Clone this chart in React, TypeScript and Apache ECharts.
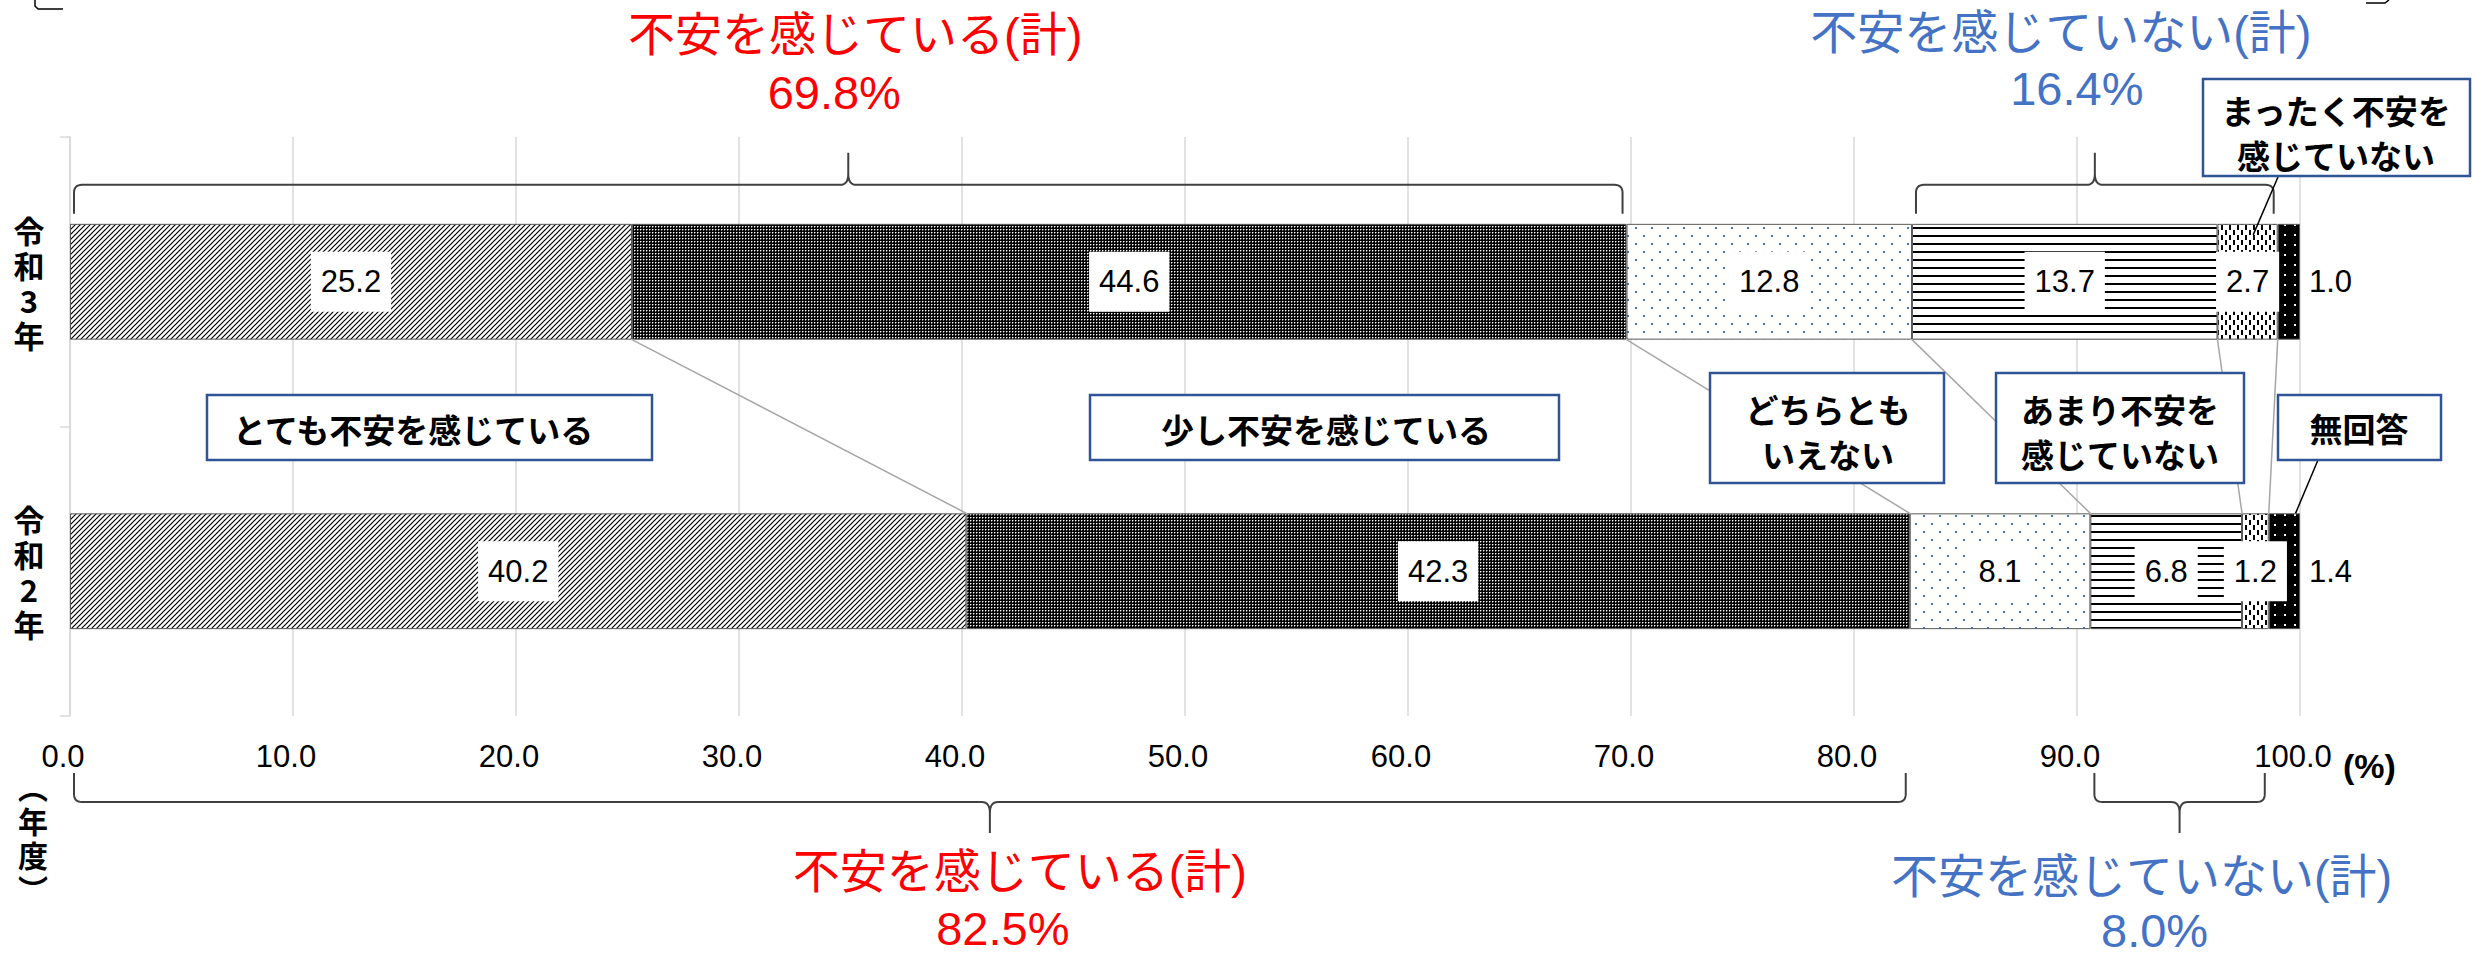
import React, { useEffect, useRef } from 'react';
import * as echarts from 'echarts';

// Survey years (top row first)
const years = ['令和3年', '令和2年'];

// Answer categories, stacked left to right
const answerNames = [
  'とても不安を感じている',
  '少し不安を感じている',
  'どちらともいえない',
  'あまり不安を感じていない',
  'まったく不安を感じていない',
  '無回答',
];

// Shares (%) per year: [令和3年, 令和2年]
const veryAnxious = [25.2, 40.2];
const slightlyAnxious = [44.6, 42.3];
const neither = [12.8, 8.1];
const notVeryAnxious = [13.7, 6.8];
const notAtAllAnxious = [2.7, 1.2];
const noAnswer = [1.0, 1.4];

// Stated subtotals per year
const anxiousTotals = [69.8, 82.5];
const notAnxiousTotals = [16.4, 8.0];

const NUM_FONT = '"Liberation Sans", "Noto Sans CJK JP", sans-serif';
const JP_FONT = '"Noto Sans CJK JP", "Liberation Sans", sans-serif';
const RED = '#FF0000';
const BLUE = '#4472C4';
const BOX_BLUE = '#2F5597';
const GRID_GRAY = '#D9D9D9';

type Ctx = CanvasRenderingContext2D;

function tile(w: number, h: number, draw: (ctx: Ctx) => void) {
  const c = document.createElement('canvas');
  c.width = w;
  c.height = h;
  const ctx = c.getContext('2d') as Ctx;
  draw(ctx);
  return { image: c, repeat: 'repeat' } as any;
}

function makePatterns() {
  // upward diagonal hatch
  const hatch = tile(5, 5, (ctx) => {
    ctx.fillStyle = '#fff';
    ctx.fillRect(0, 0, 5, 5);
    ctx.strokeStyle = '#000';
    ctx.lineWidth = 1.2;
    for (const o of [-5, 0, 5]) {
      ctx.beginPath();
      ctx.moveTo(o - 1, 6);
      ctx.lineTo(o + 6, -1);
      ctx.stroke();
    }
  });
  // dense black with fine white dots
  const darkDots = tile(3, 3, (ctx) => {
    ctx.fillStyle = '#000';
    ctx.fillRect(0, 0, 3, 3);
    ctx.fillStyle = '#fff';
    ctx.fillRect(1, 1, 1, 1);
    ctx.fillStyle = '#777';
    ctx.fillRect(2, 1, 1, 1);
    ctx.fillRect(1, 2, 1, 1);
  });
  // sparse blue dots on white
  const blueDots = tile(16, 16, (ctx) => {
    ctx.fillStyle = '#fff';
    ctx.fillRect(0, 0, 16, 16);
    ctx.fillStyle = BLUE;
    ctx.fillRect(3, 3, 2, 2);
    ctx.fillRect(11, 11, 2, 2);
  });
  // horizontal stripes
  const hLines = tile(8, 8, (ctx) => {
    ctx.fillStyle = '#fff';
    ctx.fillRect(0, 0, 8, 8);
    ctx.fillStyle = '#000';
    ctx.fillRect(0, 3, 8, 2);
  });
  // short vertical dashes
  const dashes = tile(8, 10, (ctx) => {
    ctx.fillStyle = '#fff';
    ctx.fillRect(0, 0, 8, 10);
    ctx.fillStyle = '#000';
    ctx.fillRect(1, 0, 2, 5);
    ctx.fillRect(5, 5, 2, 5);
  });
  // black with white dots
  const whiteDots = tile(10, 10, (ctx) => {
    ctx.fillStyle = '#000';
    ctx.fillRect(0, 0, 10, 10);
    ctx.fillStyle = '#fff';
    ctx.fillRect(4, 4, 2, 2);
  });
  return [hatch, darkDots, blueDots, hLines, dashes, whiteDots];
}

function quad(pts: number[][], p0: number[], c: number[], p1: number[], n = 8) {
  for (let i = 1; i <= n; i++) {
    const t = i / n;
    const a = (1 - t) * (1 - t);
    const b = 2 * (1 - t) * t;
    const d = t * t;
    pts.push([a * p0[0] + b * c[0] + d * p1[0], a * p0[1] + b * c[1] + d * p1[1]]);
  }
}

// Curly brace: ends at yEnd, spine at yH, tip at yPeak
function bracePoints(x0: number, x1: number, yEnd: number, yH: number, yPeak: number) {
  const dir = Math.sign(yPeak - yH);
  const e = -dir;
  const m = (x0 + x1) / 2;
  const r = 8;
  const pts: number[][] = [[x0, yEnd], [x0, yH + e * r]];
  quad(pts, [x0, yH + e * r], [x0, yH], [x0 + r, yH]);
  pts.push([m - r, yH]);
  quad(pts, [m - r, yH], [m, yH], [m, yH + dir * 11]);
  pts.push([m, yPeak]);
  pts.push([m, yH + dir * 11]);
  quad(pts, [m, yH + dir * 11], [m, yH], [m + r, yH]);
  pts.push([x1 - r, yH]);
  quad(pts, [x1 - r, yH], [x1, yH], [x1, yH + e * r]);
  pts.push([x1, yEnd]);
  return pts;
}

function textEl(
  text: string,
  x: number,
  y: number,
  opts: { size: number; color?: string; weight?: string; family?: string; align?: string; lineHeight?: number; z?: number }
) {
  const align = opts.align || 'center';
  return {
    type: 'text',
    x,
    y,
    z: opts.z ?? 30,
    silent: true,
    style: {
      text,
      fill: opts.color || '#000',
      fontSize: opts.size,
      fontWeight: opts.weight || 'normal',
      fontFamily: opts.family || JP_FONT,
      lineHeight: opts.lineHeight,
      align,
      verticalAlign: 'middle',
      textAlign: align,
      textVerticalAlign: 'middle',
    },
  };
}

export default function App() {
  const ref = useRef<HTMLDivElement>(null);

  useEffect(() => {
    if (!ref.current) return;
    const chart = echarts.init(ref.current, undefined, { renderer: 'svg' });
    const patterns = makePatterns();
    const segments = [veryAnxious, slightlyAnxious, neither, notVeryAnxious, notAtAllAnxious, noAnswer];

    const insideLabel = {
      show: true,
      position: 'inside',
      formatter: (p: any) => Number(p.value).toFixed(1),
      backgroundColor: '#fff',
      padding: [13, 10, 11, 10],
      fontSize: 31,
      lineHeight: 36,
      color: '#000',
      fontFamily: NUM_FONT,
    };
    const outsideLabel = {
      show: true,
      position: 'right',
      distance: 9,
      formatter: (p: any) => Number(p.value).toFixed(1),
      fontSize: 31,
      color: '#000',
      fontFamily: NUM_FONT,
    };

    chart.setOption({
      animation: false,
      backgroundColor: '#fff',
      grid: { left: 70, right: 173, top: 137, bottom: 241, containLabel: false },
      xAxis: {
        type: 'value',
        min: 0,
        max: 100,
        interval: 10,
        axisLine: { show: false },
        axisTick: { show: false },
        splitLine: { show: true, lineStyle: { color: GRID_GRAY, width: 1.5 } },
        axisLabel: {
          formatter: (v: number) => v.toFixed(1),
          fontSize: 31,
          color: '#000',
          fontFamily: NUM_FONT,
          margin: 25,
          padding: [0, 14, 0, 0],
        },
      },
      yAxis: {
        type: 'category',
        data: years,
        inverse: true,
        axisLine: { show: true, lineStyle: { color: GRID_GRAY, width: 1.5 } },
        axisTick: { show: true, length: 10, lineStyle: { color: GRID_GRAY, width: 1.5 } },
        axisLabel: {
          formatter: (v: string) => v.split('').join('\n'),
          fontSize: 31,
          fontWeight: 'bold',
          lineHeight: 35,
          align: 'center',
          margin: 41,
          color: '#000',
          fontFamily: JP_FONT,
        },
      },
      series: segments.map((data, i) => ({
        type: 'bar',
        name: answerNames[i],
        stack: 'total',
        data,
        barWidth: '40%',
        itemStyle: { color: patterns[i], borderColor: '#595959', borderWidth: 1 },
        label: i === segments.length - 1 ? outsideLabel : insideLabel,
      })),
    });

    // Positions derived from the axes
    const px = (v: number) => chart.convertToPixel({ xAxisIndex: 0 }, v) as number;
    const rowY = years.map((y) => chart.convertToPixel({ yAxisIndex: 0 }, y) as number);
    const band = Math.abs(rowY[1] - rowY[0]);
    const half = (band * 0.4) / 2;
    const barTop = rowY.map((y) => y - half);
    const barBottom = rowY.map((y) => y + half);
    const gridBottom = rowY[1] + band / 2;

    const cum = years.map((_, r) => {
      let s = 0;
      return segments.map((seg) => (s += seg[r]));
    });

    const graphics: any[] = [];

    // Series lines joining the segment boundaries of the two bars
    for (let k = 0; k < segments.length - 1; k++) {
      graphics.push({
        type: 'line',
        z: 5,
        silent: true,
        shape: { x1: px(cum[0][k]), y1: barBottom[0], x2: px(cum[1][k]), y2: barTop[1] },
        style: { stroke: '#A6A6A6', lineWidth: 1.5 },
      });
    }

    // Subtotal braces
    const braces = [
      { row: 0, from: 0, to: cum[0][1], top: true, color: RED, title: '不安を感じている(計)', total: anxiousTotals[0], d1: 7, d2: -14, y1: 34, y2: 92 },
      { row: 0, from: cum[0][2], to: cum[0][4], top: true, color: BLUE, title: '不安を感じていない(計)', total: notAnxiousTotals[0], d1: -34, d2: -18, y1: 32, y2: 88 },
      { row: 1, from: 0, to: cum[1][1], top: false, color: RED, title: '不安を感じている(計)', total: anxiousTotals[1], d1: 30, d2: 13, y1: 871, y2: 928 },
      { row: 1, from: cum[1][2], to: cum[1][4], top: false, color: BLUE, title: '不安を感じていない(計)', total: notAnxiousTotals[1], d1: -38, d2: -25, y1: 876, y2: 930 },
    ];
    braces.forEach((b) => {
      const x0 = px(b.from) + 4;
      const x1 = px(b.to) - 4;
      const m = (x0 + x1) / 2;
      const pts = b.top
        ? bracePoints(x0, x1, barTop[0] - 10, barTop[0] - 39, barTop[0] - 71)
        : bracePoints(x0, x1, gridBottom + 57, gridBottom + 86, gridBottom + 117);
      graphics.push({
        type: 'polyline',
        z: 6,
        silent: true,
        shape: { points: pts },
        style: { stroke: '#404040', lineWidth: 2, fill: null },
      });
      graphics.push(textEl(b.title, m + b.d1, b.y1, { size: 47, color: b.color, family: NUM_FONT }));
      graphics.push(textEl(`${b.total.toFixed(1)}%`, m + b.d2, b.y2, { size: 47, color: b.color, family: NUM_FONT }));
    });

    // Leader lines to the smallest segments
    graphics.push({
      type: 'line',
      z: 15,
      silent: true,
      shape: { x1: 2278, y1: 177, x2: px(cum[0][3] + 1.6), y2: barTop[0] + 11 },
      style: { stroke: '#000', lineWidth: 1.5 },
    });
    graphics.push({
      type: 'line',
      z: 15,
      silent: true,
      shape: { x1: 2318, y1: 460, x2: px(99.8), y2: barTop[1] },
      style: { stroke: '#000', lineWidth: 1.5 },
    });

    // Category callouts
    const callouts = [
      { text: 'とても不安を感じている', box: [207, 395, 445, 65], tx: 233, ty: 429, align: 'left' },
      { text: '少し不安を感じている', box: [1090, 395, 469, 65], tx: 1326, ty: 429, align: 'center' },
      { text: 'どちらとも\nいえない', box: [1710, 373, 234, 110], tx: 1828, ty: 431, align: 'center' },
      { text: 'あまり不安を\n感じていない', box: [1996, 373, 248, 110], tx: 2120, ty: 431, align: 'center' },
      { text: '無回答', box: [2278, 395, 163, 65], tx: 2359, ty: 428, align: 'center' },
      { text: 'まったく不安を\n感じていない', box: [2203, 79, 267, 97], tx: 2336, ty: 132, align: 'center' },
    ];
    callouts.forEach((c) => {
      graphics.push({
        type: 'rect',
        z: 20,
        silent: true,
        shape: { x: c.box[0], y: c.box[1], width: c.box[2], height: c.box[3] },
        style: { fill: '#fff', stroke: BOX_BLUE, lineWidth: 2.5 },
      });
      graphics.push(
        textEl(c.text, c.tx, c.ty, { size: 33, weight: 'bold', align: c.align, lineHeight: 45 })
      );
    });

    // Axis unit and year caption
    graphics.push(textEl('(%)', px(100) + 43, 766, { size: 34, weight: 'bold', align: 'left', family: NUM_FONT }));
    graphics.push(textEl('︵\n年\n度\n︶', 33, 837, { size: 30, weight: 'bold', lineHeight: 34 }));

    // Clipped frame corners at the top edge
    graphics.push({
      type: 'polyline',
      silent: true,
      shape: { points: [[35, 0], [35, 6], [38, 9], [63, 9]] },
      style: { stroke: '#000', lineWidth: 1.5, fill: null },
    });
    graphics.push({
      type: 'polyline',
      silent: true,
      shape: { points: [[2366, 3], [2385, 3], [2389, 0]] },
      style: { stroke: '#000', lineWidth: 1.5, fill: null },
    });

    chart.setOption({ graphic: { elements: graphics } });

    return () => chart.dispose();
  }, []);

  return (
    <div
      ref={ref}
      style={{ position: 'fixed', left: 0, top: 0, width: 2473, height: 957, background: '#fff' }}
    />
  );
}
